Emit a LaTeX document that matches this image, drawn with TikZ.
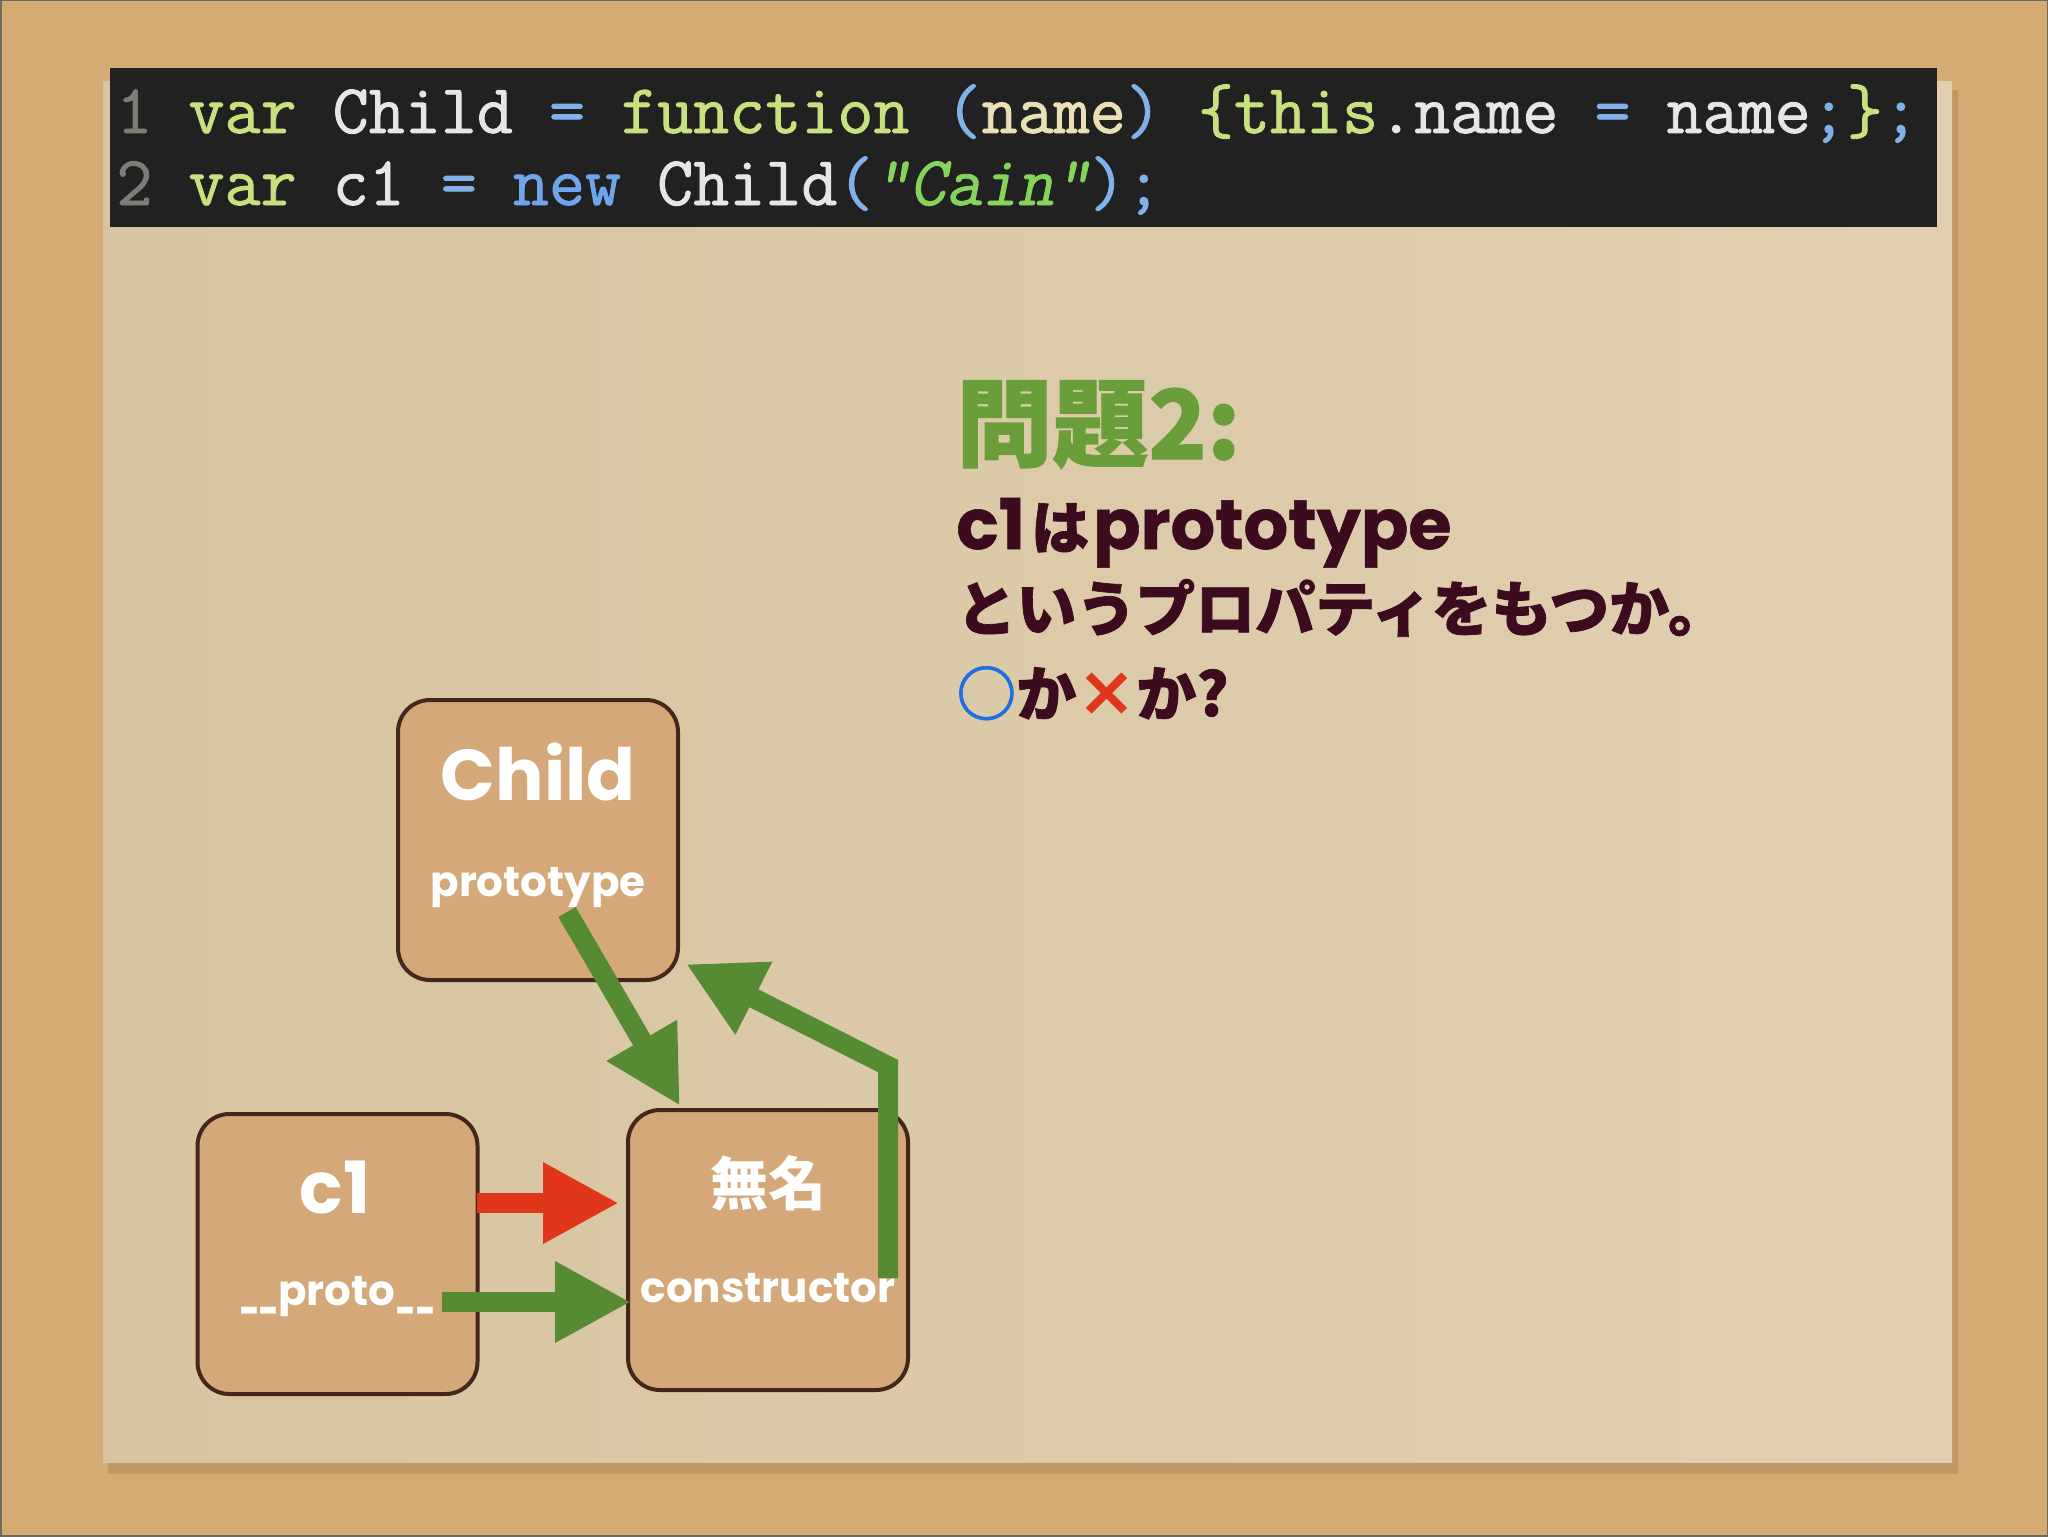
\documentclass[tikz,border=0pt]{standalone}
\usepackage{fontspec}
\setmainfont{Poppins}
\newfontfamily\cjk{Noto Sans CJK JP}
\newfontfamily\cjkheavy{Noto Sans CJK JP}[FakeBold=1.2]
\newfontfamily\popheavy{Poppins}[FakeBold=0.8]
\newfontfamily\codefont{Latin Modern Mono}[FakeBold=1.2]
\newfontfamily\codeslant{Latin Modern Mono}[FakeBold=1.2, FakeSlant=0.2]
\usetikzlibrary{arrows.meta}
\definecolor{cork}{HTML}{D5AA73}
\definecolor{frame}{HTML}{6E6A5C}
\definecolor{paperdark}{HTML}{D7C4A0}
\definecolor{paperlight}{HTML}{E0D0B1}
\definecolor{papershadow}{HTML}{9C7447}
\definecolor{codebg}{HTML}{212121}
\definecolor{cnum}{HTML}{7D7D75}
\definecolor{ckw}{HTML}{C9E07F}
\definecolor{cid}{HTML}{E6E6E2}
\definecolor{cop}{HTML}{7FB2EA}
\definecolor{cparam}{HTML}{EADFB5}
\definecolor{cnew}{HTML}{6EA6EC}
\definecolor{cstr}{HTML}{86D35C}
\definecolor{qgreen}{HTML}{6A9E3A}
\definecolor{qtext}{HTML}{3C0C1E}
\definecolor{qblue}{HTML}{1E6FE3}
\definecolor{qred}{HTML}{E0361A}
\definecolor{boxfill}{HTML}{D4A878}
\definecolor{boxline}{HTML}{45261A}
\definecolor{agreen}{HTML}{578B33}
\definecolor{ared}{HTML}{E2361A}
\newcommand\colc[2]{\textcolor{#1}{#2}}
\newcommand\uscore{\scalebox{0.6}[1]{\_\_}}
\begin{document}
\begin{tikzpicture}[x=0.5pt,y=-0.5pt,
  objbox/.style={draw=boxline, line width=2pt, fill=boxfill, rounded corners=16pt,
    minimum width=140pt, minimum height=140pt, inner sep=0pt},
  bigl/.style={anchor=base, inner sep=0pt, text=white, font=\bfseries\fontsize{36}{36}\selectfont},
  cjkl/.style={anchor=base, inner sep=0pt, text=white, font=\cjk\bfseries\fontsize{29}{29}\selectfont},
  smalll/.style={anchor=base, inner sep=0pt, text=white, font=\bfseries\fontsize{21}{21}\selectfont},
  codeline/.style={anchor=base west, inner sep=0pt, font=\codefont\fontsize{35}{35}\selectfont},
  qline/.style={anchor=base west, inner sep=0pt, text=qtext},
  garrow/.style={draw=agreen, line width=10pt, line join=miter, -{Triangle[length=38pt,width=38pt]}},
  rarrow/.style={draw=ared, line width=10pt, -{Triangle[length=38pt,width=38pt]}}
]
\useasboundingbox (0,0) rectangle (2048,1536);
% background
\fill[cork] (0,0) rectangle (2048,1536);
\draw[frame, line width=1.5pt] (0,0) rectangle (2048,1536);
\fill[papershadow, opacity=0.35] (108,90) rectangle (1958,1474);
\shade[left color=paperdark, right color=paperlight] (103,82) rectangle (1952,1462);
% code bar
\fill[codebg] (110,68) rectangle (1937,227);
\node[codeline] (code1) at (116,133) {\colc{cnum}{1} \colc{ckw}{var} \colc{cid}{Child} \colc{cop}{=} \colc{ckw}{function} \colc{cop}{(}\colc{cparam}{name}\colc{cop}{)} \colc{ckw}{\{this}\colc{cid}{.name} \colc{cop}{=} \colc{cid}{name}\colc{cop}{;}\colc{ckw}{\}}\colc{cop}{;}};
\node[codeline] (code2) at (116,205) {\colc{cnum}{2} \colc{ckw}{var} \colc{cid}{c1} \colc{cop}{=} \colc{cnew}{new} \colc{cid}{Child}\colc{cop}{(}\colc{cstr}{\codeslant\fontsize{35}{35}\selectfont "Cain"}\colc{cop}{)}\colc{cop}{;}};
% question
\node[qline, text=qgreen, font=\cjkheavy\bfseries\fontsize{48}{48}\selectfont] (qtitle) at (956,459) {問題2:};
\node[qline] (q1) at (956,549) {{\popheavy\bfseries\fontsize{35}{35}\selectfont c1}\hspace{3pt}{\cjkheavy\bfseries\fontsize{29}{29}\selectfont は}\hspace{2pt}{\popheavy\bfseries\fontsize{35}{35}\selectfont prototype}};
\node[qline, font=\cjkheavy\bfseries\fontsize{30}{30}\selectfont] (q2) at (956,631) {というプロパティをもつか。};
\node[qline, font=\cjkheavy\bfseries\fontsize{30}{30}\selectfont] (q3) at (956,716) {\textcolor{qblue}{○}か\textcolor{qred}{×}か?};
% boxes
\node[objbox] (child) at (538,840) {};
\node[objbox] (c1) at (337.5,1254) {};
\node[objbox] (anon) at (768,1250) {};
\node[bigl] (childname) at (538,800) {Child};
\node[smalll] (childproto) at (538,896) {prototype};
\node[bigl] (c1name) at (335,1213) {c1};
\node[smalll] (c1proto) at (337,1305) {\uscore proto\uscore};
\node[cjkl] (anonname) at (768,1205) {無名};
\node[smalll] (anoncons) at (768,1302) {constructor};
% arrow end points
\coordinate (pstart) at (567,912);
\coordinate (ptip) at (680,1106);
\coordinate (cstart) at (888,1278);
\coordinate (cbend) at (888,1066);
\coordinate (ctip) at (686,964);
\coordinate (rstart) at (477,1203);
\coordinate (rtip) at (619,1203);
\coordinate (gstart) at (442,1302);
\coordinate (gtip) at (631,1302);
\draw[garrow] (pstart) -- (ptip);
\draw[garrow] (cstart) -- (cbend) -- (ctip);
\draw[rarrow] (rstart) -- (rtip);
\draw[garrow] (gstart) -- (gtip);
\end{tikzpicture}
\end{document}
